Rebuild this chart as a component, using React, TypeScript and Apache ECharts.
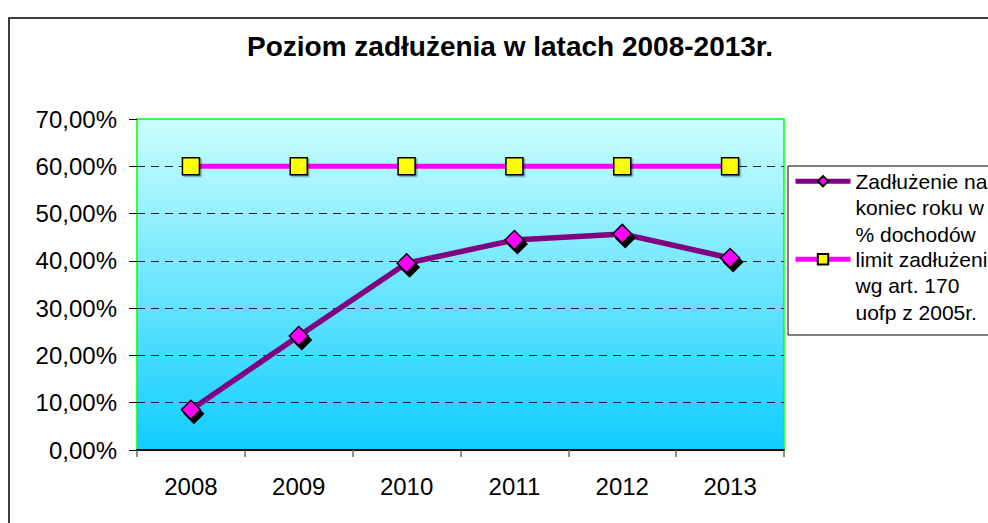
import React, { useEffect, useRef } from "react";
import * as echarts from "echarts";

const title = "Poziom zadłużenia w latach 2008-2013r.";
const years = ["2008", "2009", "2010", "2011", "2012", "2013"];
const debtName = "Zadłużenie na\nkoniec roku w\n% dochodów";
const limitName = "limit zadłużenia\nwg art. 170\nuofp z 2005r.";
const debtValues = [8.5, 24.1, 39.5, 44.4, 45.7, 40.6];
const limitValues = [60, 60, 60, 60, 60, 60];
const yTicks = { min: 0, max: 70, interval: 10 };

const FONT = "'Liberation Sans', Arial, sans-serif";

export default function App() {
  const ref = useRef<HTMLDivElement>(null);
  useEffect(() => {
    if (!ref.current) return;
    const chart = echarts.init(ref.current, null, { renderer: "svg" });
    chart.setOption({
      animation: false,
      backgroundColor: "#ffffff",
      textStyle: { fontFamily: FONT },
      title: {
        text: title,
        left: 505,
        textAlign: "center",
        top: 27,
        textStyle: { fontFamily: FONT, fontSize: 28, fontWeight: "bold", color: "#000" },
      },
      graphic: [
        {
          type: "rect",
          z: -10,
          shape: { x: 9, y: 18, width: 1100, height: 700 },
          style: { fill: "none", stroke: "#000", lineWidth: 1.5 },
        },
        {
          type: "rect",
          z: -10,
          shape: { x: 788, y: 166, width: 300, height: 169 },
          style: { fill: "#fff", stroke: "#000", lineWidth: 1 },
        },
      ],
      legend: {
        orient: "vertical",
        left: 793,
        top: 115,
        padding: 0,
        itemGap: -54.5,
        itemWidth: 55,
        itemHeight: 13,
        selectedMode: false,
        data: [debtName, limitName],
        formatter: (name: string) => "\n\n" + name,
        lineStyle: { width: 5 },
        textStyle: { fontFamily: FONT, fontSize: 21, color: "#000", lineHeight: 26.5 },
      },
      grid: { left: 137, right: 204, top: 119, bottom: 73, show: true, borderColor: "#00ff00", borderWidth: 1.5,
        backgroundColor: new echarts.graphic.LinearGradient(0, 0, 0, 1, [
          { offset: 0, color: "#ccffff" },
          { offset: 1, color: "#0fccff" },
        ]),
      },
      xAxis: {
        type: "category",
        data: years,
        boundaryGap: true,
        axisLine: { show: true, lineStyle: { color: "#000", width: 2 } },
        axisTick: { show: true, interval: 0, length: 7, lineStyle: { color: "#666", width: 1.5 } },
        axisLabel: { fontFamily: FONT, fontSize: 24, color: "#000", margin: 24, interval: 0 },
        splitLine: { show: false },
      },
      yAxis: {
        type: "value",
        min: yTicks.min,
        max: yTicks.max,
        interval: yTicks.interval,
        axisLine: { show: false },
        axisTick: { show: true, length: 8, lineStyle: { color: "#000", width: 1 } },
        axisLabel: {
          fontFamily: FONT,
          fontSize: 24,
          color: "#000",
          margin: 20,
          formatter: (v: number) => v.toFixed(2).replace(".", ",") + "%",
        },
        splitLine: {
          show: true,
          showMinLine: false,
          showMaxLine: false,
          lineStyle: { color: "#222", width: 1, type: [8, 6] },
        },
      },
      series: [
        {
          name: debtName,
          type: "line",
          data: debtValues,
          symbol: "diamond",
          symbolSize: 19,
          z: 3,
          lineStyle: { color: "#800080", width: 5.5 },
          itemStyle: {
            color: "#ff00ff",
            borderColor: "#000",
            borderWidth: 1.5,
            shadowColor: "#000",
            shadowBlur: 0,
            shadowOffsetX: 3,
            shadowOffsetY: 4,
          },
        },
        {
          name: limitName,
          type: "line",
          data: limitValues,
          symbol: "rect",
          symbolSize: 17,
          z: 3,
          lineStyle: { color: "#ff00ff", width: 5 },
          itemStyle: {
            color: "#ffff00",
            borderColor: "#000",
            borderWidth: 1.5,
            shadowColor: "rgba(0,0,0,0.35)",
            shadowBlur: 0,
            shadowOffsetX: 1.5,
            shadowOffsetY: 1.5,
          },
        },
      ],
    });
    return () => chart.dispose();
  }, []);
  return <div ref={ref} style={{ position: "fixed", left: 0, top: 0, width: 988, height: 523 }} />;
}
